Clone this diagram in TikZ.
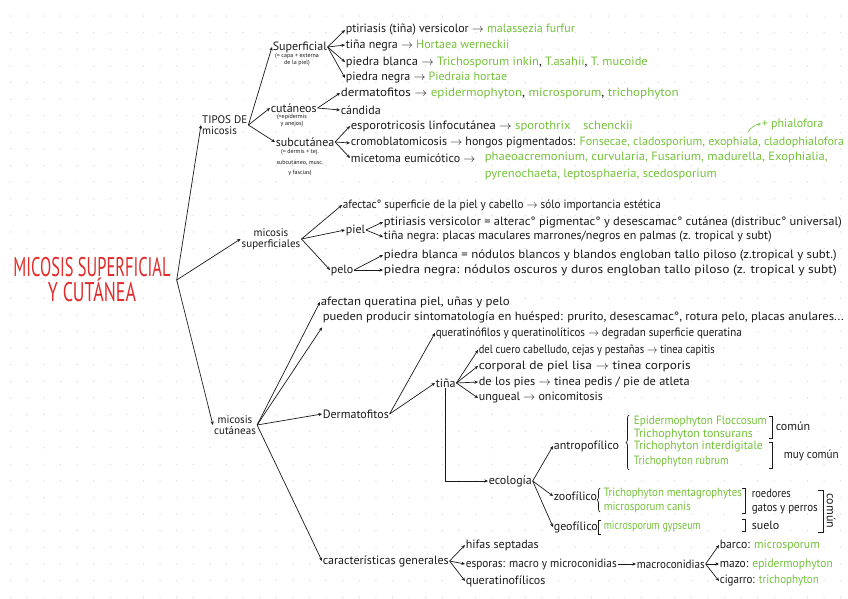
\documentclass[tikz,border=0pt]{standalone}
\usepackage{fontspec}
\setmainfont{PT Sans}
\newfontfamily\ttlfont{PT Sans}
\usetikzlibrary{arrows.meta,decorations.pathreplacing}
\definecolor{ink}{HTML}{1A1A1A}
\definecolor{grn}{HTML}{74C23A}
\definecolor{ttlc}{HTML}{E32B2B}
\definecolor{dotc}{HTML}{D9D9D9}
\newcommand\gr[1]{\textcolor{grn}{#1}}
\newcommand\fw[2]{\resizebox{#1pt}{\height}{#2}}
\tikzset{
 txt/.style={anchor=west,inner sep=0.6pt,text=ink,font=\fontsize{12}{12}\selectfont},
 lvl/.style={inner sep=1pt,text=ink,font=\fontsize{11}{11.5}\selectfont},
 note/.style={inner sep=0pt,text=ink,font=\fontsize{6}{7}\selectfont,align=center},
 arr/.style={draw=ink,line width=0.7pt,-{Stealth[length=3.6pt,width=3.2pt]}},
 brk/.style={draw=ink,line width=0.7pt},
 brc/.style={draw=ink,line width=0.7pt,decorate,decoration={brace,amplitude=3pt}},
 ttl/.style={text=ttlc,font=\ttlfont\fontsize{27}{25}\selectfont,align=center,inner xsep=6pt,inner ysep=0pt},
}
\begin{document}
\begin{tikzpicture}[x=1pt,y=-1pt]
\useasboundingbox (0,0) rectangle (848,599);
\fill[white] (0,0) rectangle (848,599);
\foreach \i in {0,...,51}{\foreach \j in {1,...,36}{\fill[dotc] ({10.7+\i*16.6},{-0.5+\j*16.6}) circle[radius=0.7pt];}}

% root
\node[ttl] (root) at (92,280) {\resizebox{157pt}{\height}{MICOSIS SUPERFICIAL}\\\resizebox{88pt}{\height}{Y CUTÁNEA}};

% level 1
\node[lvl,anchor=west,align=left] (tipos) at (201,125) {\fw{45}{TIPOS DE}\\micosis};
\node[lvl,align=center] (msup) at (271,239) {micosis\\superficiales};
\node[lvl,align=center] (mcut) at (235,425) {micosis\\cutáneas};
\draw[arr] (root.east) -- (tipos.west);
\draw[arr] (root.east) -- (msup.west);
\draw[arr] (root.east) -- (mcut.west);

% tipos de micosis
\node[txt] (sup) at (272,47) {Superficial};
\node[note] (supn) at (297,60) {(= capa + externa\\de la piel)};
\node[txt] (cut) at (270,108) {cutáneos};
\node[note] (cutn) at (292,121) {(=epidermis\\y anejos)};
\node[txt] (subc) at (275,142) {subcutánea};
\node[note,font=\fontsize{6}{10.5}\selectfont] (subn) at (300,163) {(= dermis + tej.\\subcutáneo, musc.\\y fascias)};
\draw[arr] (tipos.east) -- (sup.west);
\draw[arr] (tipos.east) -- (cut.west);
\draw[arr] (tipos.east) -- (subc.west);

\node[txt] (s1) at (345,30) {ptiriasis (tiña) versicolor $\to$ \gr{malassezia furfur}};
\node[txt] (s2) at (345,45) {tiña negra $\to$ \gr{Hortaea werneckii}};
\node[txt] (s3) at (345,62) {\fw{302}{piedra blanca $\to$ \gr{Trichosporum inkin}, \gr{T.asahii}, \gr{T. mucoide}}};
\node[txt] (s4) at (345,78) {piedra negra $\to$ \gr{Piedraia hortae}};
\foreach \n in {s1,s2,s3,s4}{\draw[arr] (sup.east) -- (\n.west);}

\node[txt] (c1) at (340,93) {\fw{338}{dermatofitos $\to$ \gr{epidermophyton}, \gr{microsporum}, \gr{trichophyton}}};
\node[txt] (c2) at (340,110) {cándida};
\foreach \n in {c1,c2}{\draw[arr] (cut.east) -- (\n.west);}

\node[txt] (u1) at (350,126) {\fw{282}{esporotricosis linfocutánea $\to$ \gr{sporothrix\quad schenckii}}};
\node[txt] (u2) at (350,143) {cromoblatomicosis $\to$ hongos pigmentados: \gr{Fonsecae, cladosporium, exophiala, cladophialofora}};
\node[txt] (u3) at (350,158) {micetoma eumicótico $\to$};
\node[txt,text=grn,align=left,anchor=north west] (u3g) at (484,151) {\fw{343}{phaeoacremonium, curvularia, Fusarium, madurella, Exophialia,}\\[5pt]\fw{232}{pyrenochaeta, leptosphaeria, scedosporium}};
\foreach \n in {u1,u2,u3}{\draw[arr] (subc.east) -- (\n.west);}
\node[txt,text=grn] (phi) at (761,124) {+ phialofora};
\coordinate (phis) at (748,132);
\draw[draw=grn,line width=0.6pt,-{Stealth[length=3pt,width=2.6pt]}] (phis) to[bend left=25] (phi.west);

% micosis superficiales
\node[txt] (a1) at (342,205) {\fw{318}{afectac° superficie de la piel y cabello $\to$ sólo importancia estética}};
\node[txt] (piel) at (345,230) {piel};
\node[txt] (pelo) at (330,270) {pelo};
\foreach \n in {a1,piel,pelo}{\draw[arr] (msup.east) -- (\n.west);}
\node[txt] (p1) at (383,222) {\fw{458}{ptiriasis versicolor = alterac° pigmentac° y desescamac° cutánea (distribuc° universal)}};
\node[txt] (p2) at (383,237) {tiña negra: placas maculares marrones/negros en palmas (z. tropical y subt)};
\node[txt] (q1) at (383,255) {\fw{453}{piedra blanca = nódulos blancos y blandos engloban tallo piloso (z.tropical y subt.)}};
\node[txt] (q2) at (383,270) {\fw{453}{piedra negra: nódulos oscuros y duros engloban tallo piloso (z. tropical y subt)}};
\foreach \n in {p1,p2}{\draw[arr] (piel.east) -- (\n.west);}
\foreach \n in {q1,q2}{\draw[arr] (pelo.east) -- (\n.west);}

% micosis cutaneas
\node[txt] (k1) at (320,302) {\fw{189}{afectan queratina piel, uñas y pelo}};
\node[txt] (k2) at (322,317) {\fw{521}{pueden producir sintomatología en huésped: prurito, desescamac°, rotura pelo, placas anulares...}};
\node[txt] (derm) at (322,414) {Dermatofitos};
\node[txt] (carac) at (322,561) {características generales};
\draw[arr] (mcut.east) -- (k1.west);
\draw[arr] (mcut.east) -- ([yshift=-4pt]k2.south west);
\draw[arr] (mcut.east) -- (derm.west);
\draw[arr] (mcut.east) -- (carac.west);

\node[txt] (d1) at (435,333) {\fw{306}{queratinófilos y queratinolíticos $\to$ degradan superficie queratina}};
\node[txt] (tina) at (435,383) {tiña};
\draw[arr] (derm.east) -- (d1.west);
\draw[arr] (derm.east) -- (tina.west);
\node[txt] (t1) at (478,350) {\fw{236}{del cuero cabelludo, cejas y pestañas $\to$ tinea capitis}};
\node[txt] (t2) at (478,366) {\fw{212}{corporal de piel lisa $\to$ tinea corporis}};
\node[txt] (t3) at (478,382) {\fw{211}{de los pies $\to$ tinea pedis / pie de atleta}};
\node[txt] (t4) at (478,398) {\fw{124}{ungueal $\to$ onicomitosis}};
\foreach \n in {t1,t2,t3,t4}{\draw[arr] (tina.east) -- (\n.west);}

\node[txt] (eco) at (488,481) {ecología};
\draw[arr] (tina.south) |- (eco.west);
\node[txt] (antro) at (553,446) {antropofílico};
\node[txt] (zoo) at (553,496) {zoofílico};
\node[txt] (geo) at (553,527) {geofílico};
\foreach \n in {antro,zoo,geo}{\draw[arr] (eco.east) -- (\n.west);}

\node[txt,text=grn] (an1) at (633,421) {\fw{133}{Epidermophyton Floccosum}};
\node[txt,text=grn] (an2) at (633,434) {\fw{119}{Trichophyton tonsurans}};
\node[txt,text=grn] (an3) at (633,447) {\fw{129}{Trichophyton interdigitale}};
\node[txt,text=grn] (an4) at (633,461) {\fw{95}{Trichophyton rubrum}};
\draw[brc] (629,470) -- (629,415);
\draw[brk] (769,416) -- (772,416) -- (772,438) -- (769,438);
\draw[brk] (769,442) -- (772,442) -- (772,468) -- (769,468);
\node[txt] (com1) at (775,426) {común};
\node[txt] (muy) at (783,455) {\fw{55}{muy común}};

\node[txt,text=grn] (zo1) at (603,494) {\fw{138}{Trichophyton mentagrophytes}};
\node[txt,text=grn] (zo2) at (603,507) {\fw{87}{microsporum canis}};
\draw[brc] (600,512) -- (600,488);
\draw[brk] (742,488) -- (745,488) -- (745,513) -- (742,513);
\node[txt] (roe) at (751,493) {\fw{39}{roedores}};
\node[txt] (gat) at (751,509) {\fw{66}{gatos y perros}};
\node[txt,text=grn] (ge1) at (603,527) {\fw{97}{microsporum gypseum}};
\draw[brk] (601,520) -- (598,520) -- (598,534) -- (601,534);
\draw[brk] (742,519) -- (745,519) -- (745,531) -- (742,531);
\node[txt] (sue) at (751,525) {suelo};
\draw[brk] (818,490) -- (823,490) -- (823,532) -- (818,532);
\node[txt,rotate=-90,anchor=center] (com2) at (831,511) {común};

% caracteristicas generales
\node[txt] (h1) at (465,545) {hifas septadas};
\node[txt] (h2) at (465,564) {\fw{151}{esporas: macro y microconidias}};
\node[txt] (h3) at (465,581) {queratinofílicos};
\foreach \n in {h1,h2,h3}{\draw[arr] (carac.east) -- (\n.west);}
\node[txt] (macro) at (636,564) {\fw{68}{macroconidias}};
\draw[arr] (h2.east) -- (macro.west);
\node[txt] (m1) at (719,545) {\fw{100}{barco: \gr{microsporum}}};
\node[txt] (m2) at (719,564) {\fw{113}{mazo: \gr{epidermophyton}}};
\node[txt] (m3) at (719,581) {\fw{99}{cigarro: \gr{trichophyton}}};
\foreach \n in {m1,m2,m3}{\draw[arr] (macro.east) -- (\n.west);}
\end{tikzpicture}
\end{document}
